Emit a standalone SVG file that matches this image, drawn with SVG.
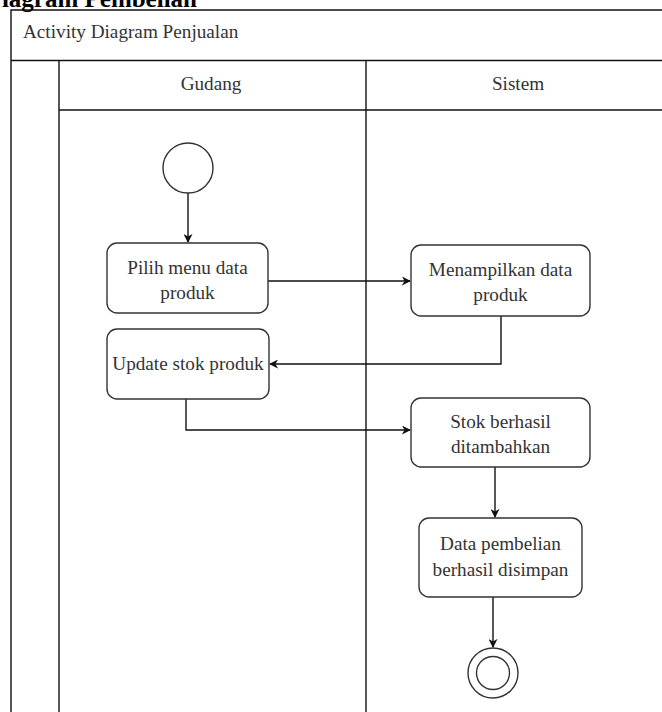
<svg xmlns="http://www.w3.org/2000/svg" width="662" height="712" viewBox="0 0 662 712">
<defs>
<style>
.frame{fill:none;stroke:#111;stroke-width:1.4}
.node{fill:#fff;stroke:#333;stroke-width:1.4}
.edge{fill:none;stroke:#111;stroke-width:1.4}
</style>
<marker id="arr" viewBox="0 0 10 10" refX="9" refY="5" markerWidth="9" markerHeight="9" markerUnits="userSpaceOnUse" orient="auto">
<path d="M0,0 L10,5 L0,10 L3,5 Z" fill="#111"/>
</marker>
</defs>
<rect width="662" height="712" fill="#fff"/>
<text x="197" y="7" text-anchor="end" font-family="'Liberation Serif', 'DejaVu Serif', serif" font-size="25" font-weight="bold" fill="#000">iagram Pembelian</text>

<g id="frame">
<path class="frame" d="M11,712 V10 H662"/>
<line class="frame" x1="11" y1="60.5" x2="662" y2="60.5"/>
<line class="frame" x1="59" y1="60.5" x2="59" y2="712"/>
<line class="frame" x1="59" y1="110" x2="662" y2="110"/>
<line class="frame" x1="366" y1="60.5" x2="366" y2="712"/>
<g font-family="'Liberation Serif', 'DejaVu Serif', serif" font-size="19.2" fill="#333">
<text x="23" y="38" text-anchor="start">Activity Diagram Penjualan</text>
<text x="211" y="90" text-anchor="middle">Gudang</text>
<text x="518" y="90" text-anchor="middle">Sistem</text>
</g>
</g>

<g id="edges">
<line class="edge" x1="188" y1="193" x2="188" y2="242" marker-end="url(#arr)"/>
<line class="edge" x1="268" y1="281" x2="410" y2="281" marker-end="url(#arr)"/>
<path class="edge" d="M501,316 V364 H270" marker-end="url(#arr)"/>
<path class="edge" d="M186,399 V430 H410" marker-end="url(#arr)"/>
<line class="edge" x1="495" y1="467" x2="495" y2="517" marker-end="url(#arr)"/>
<line class="edge" x1="493" y1="597" x2="493" y2="647" marker-end="url(#arr)"/>
</g>

<g font-family="'Liberation Serif', 'DejaVu Serif', serif" font-size="19.2" fill="#333" text-anchor="middle">
<g id="start">
<circle class="node" cx="188" cy="168" r="25"/>
</g>

<g id="pilih">
<rect class="node" x="107" y="243" width="161" height="70" rx="10"/>
<text x="187.5" y="274">Pilih menu data</text>
<text x="187.5" y="299">produk</text>
</g>

<g id="menampilkan">
<rect class="node" x="411" y="245" width="179" height="71" rx="10"/>
<text x="500.5" y="276">Menampilkan data</text>
<text x="500.5" y="301">produk</text>
</g>

<g id="update">
<rect class="node" x="107" y="329" width="162" height="70" rx="10"/>
<text x="188" y="370">Update stok produk</text>
</g>

<g id="stok">
<rect class="node" x="411" y="398" width="179" height="69" rx="10"/>
<text x="500.5" y="428">Stok berhasil</text>
<text x="500.5" y="453">ditambahkan</text>
</g>

<g id="data">
<rect class="node" x="419" y="518" width="163" height="79" rx="10"/>
<text x="500.5" y="550">Data pembelian</text>
<text x="500.5" y="576">berhasil disimpan</text>
</g>

<g id="end">
<circle class="node" cx="493" cy="673" r="25"/>
<circle class="node" cx="493" cy="673" r="16.5"/>
</g>
</g>
</svg>
